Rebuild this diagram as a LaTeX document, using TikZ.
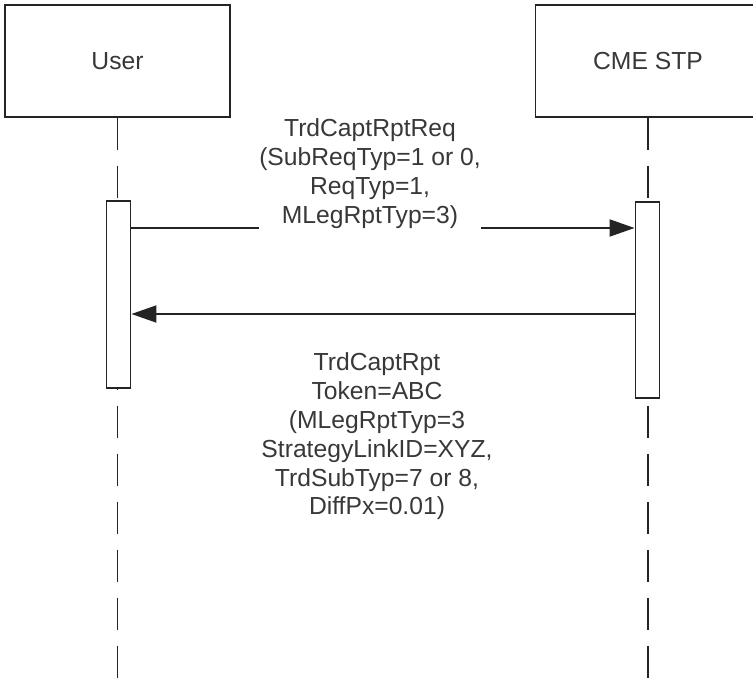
\documentclass[tikz,border=0pt]{standalone}
\usepackage{fontspec}
\setmainfont{Liberation Sans}
\usetikzlibrary{arrows.meta}
\definecolor{inkgray}{HTML}{242424}
\definecolor{txtgray}{HTML}{383838}
\begin{document}
\begin{tikzpicture}
	[	x=0.75pt,y=-0.75pt,
	actor/.style={rectangle,draw=inkgray,line width=1.4pt,fill=white,minimum width=168.75pt,minimum height=84pt,text=txtgray,font=\fontsize{18.5pt}{21.6pt}\selectfont},
	life/.style={draw=inkgray,line width=1.4pt,dash pattern=on 24pt off 12pt},
	bar/.style={rectangle,draw=inkgray,line width=1.4pt,fill=white,minimum width=18pt,inner sep=0pt},
	msg/.style={draw=inkgray,line width=1.4pt,-{Triangle[length=18.75pt,width=12.75pt]}},
	plain/.style={inner sep=0pt,align=center,text=txtgray,font=\fontsize{18.5pt}{21.6pt}\selectfont}
	]
	\useasboundingbox (0,0) rectangle (753,680);
	\clip (0,0) rectangle (753,680);
	\node[actor] (user) at (117.5,61){User};
	\node[actor] (cme) at (648,61){CME STP};

	\coordinate (floor) at (0,690);
	\draw[life] (user.south) -- (user.south|-floor);
	\draw[life] (cme.south) -- (cme.south|-floor);

	\node[bar,minimum height=140.25pt] (userbar) at (118.5,294.5){};
	\node[bar,minimum height=147pt] (cmebar) at (647.5,300){};

\node[plain] (reqlabel) at (370,173.5){TrdCaptRptReq\\(SubReqTyp=1 or 0,\\ReqTyp=1,\\MLegRptTyp=3)};
\node[plain] (rptlabel) at (377,436.5){TrdCaptRpt\\Token=ABC\\(MLegRptTyp=3\\StrategyLinkID=XYZ,\\TrdSubTyp=7 or 8,\\DiffPx=0.01)};
	\coordinate (req) at (0,228);
	\coordinate (rpt) at (0,314);
	\draw[draw=inkgray,line width=1.4pt] (userbar.east|-req) -- (reqlabel.west|-req);
	\draw[msg] (reqlabel.east|-req) -- (cmebar.west|-req);
	\draw[msg] (cmebar.west|-rpt) -- (userbar.east|-rpt);
\end{tikzpicture}
\end{document}
